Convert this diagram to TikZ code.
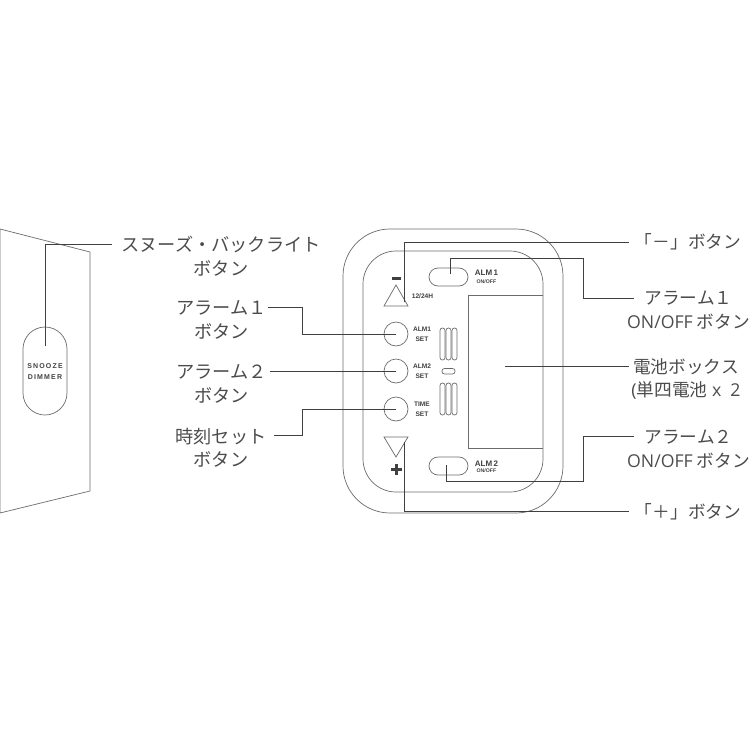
\documentclass[tikz,border=0pt]{standalone}
\usetikzlibrary{shapes.misc}
\usepackage{fontspec}
\setmainfont{Liberation Sans}
\newfontfamily\jp{Noto Sans CJK JP}
\newfontfamily\lab{Liberation Sans}
\newfontfamily\lat{Open Sans}
\definecolor{outl}{gray}{0.42}
\definecolor{conn}{gray}{0.25}
\definecolor{txt}{gray}{0.3}
\tikzset{
  outline/.style={draw=outl,line width=0.7pt,fill=none},
  leader/.style={draw=conn,line width=0.95pt,line join=miter},
  callout/.style={inner sep=0pt,align=center,text=txt,font=\jp\fontsize{18.2}{23.4}\selectfont},
  calloutR/.style={callout,font=\jp\fontsize{17.7}{23.4}\selectfont},
  tiny/.style={inner sep=0pt,align=center,text=conn,font=\lab\bfseries\fontsize{6.6}{9.6}\selectfont},
  tinier/.style={inner sep=0pt,align=center,text=conn,font=\lab\bfseries\fontsize{5.2}{5.5}\selectfont},
  bigtiny/.style={inner sep=0pt,text=conn,font=\lab\bfseries\fontsize{8}{8}\selectfont},
  roundbtn/.style={circle,draw=outl,line width=0.7pt,minimum size=24pt,inner sep=0pt},
  pill/.style={rounded rectangle,draw=outl,line width=0.7pt,inner sep=0pt},
}
\begin{document}
\begin{tikzpicture}[x=1pt,y=-1pt]
\useasboundingbox (0,0) rectangle (750,750);
\clip (0,0) rectangle (750,750);
% left panel
\draw[outline] (0,229) -- (90,252) -- (90,491) -- (0,513) -- cycle;
\node[pill,rotate=90,minimum width=88pt,minimum height=44pt] (sbtn) at (45,371) {};
\node[tiny,font=\lab\bfseries\fontsize{7}{11}\selectfont] (snz) at (45,371.5) {S\,N\,O\,O\,Z\,E\\D\,I\,M\,M\,E\,R};
% body
\draw[outline,rounded corners=47pt] (343,229) rectangle (563,513);
\draw[outline,rounded corners=33pt] (363,251) rectangle (543,492);
\draw[outline] (543,295) -- (468,295) -- (468,448) -- (543,448);
% oval buttons
\node[pill,minimum width=39pt,minimum height=18pt] (o1) at (448.5,277) {};
\node[pill,minimum width=39pt,minimum height=18pt] (o2) at (448.5,466) {};
\node[bigtiny] (a1t) at (486.5,273) {ALM\,1};
\node[tinier] (a1o) at (486.5,282) {ON/OFF};
\node[bigtiny] (a2t) at (486.5,464) {ALM\,2};
\node[tinier] (a2o) at (486.5,471) {ON/OFF};
% triangles and signs
\draw[outline] (396,285) -- (408,306) -- (384,306) -- cycle;
\draw[outline] (396,457) -- (408,437) -- (384,437) -- cycle;
\fill[conn] (392,277.2) rectangle (400.5,279.8);
\fill[conn] (391,467.5) rectangle (402,471);
\fill[conn] (394.7,463.8) rectangle (398.3,474.8);
\node[tiny] (h24) at (422.5,296) {12/24H};
% round buttons
\node[roundbtn] (b1) at (396,334) {};
\node[roundbtn] (b2) at (396,371) {};
\node[roundbtn] (b3) at (396,409) {};
\node[tiny] (b1t) at (422,334) {ALM1\\SET};
\node[tiny] (b2t) at (422,371) {ALM2\\SET};
\node[tiny] (b3t) at (422,409) {TIME\\SET};
% vents
\foreach \vx in {440,446,452}{
  \draw[outline,rounded corners=2.4pt] (\vx,328) rectangle ++(5,32);
  \draw[outline,rounded corners=2.4pt] (\vx,383) rectangle ++(5,32);
}
\draw[outline,rounded corners=2.5pt] (442,368.5) rectangle (455,374);
% labels
\node[callout] (l1) at (221,256) {スヌーズ・バックライト\\ボタン};
\node[callout] (l2) at (221.5,320) {アラーム１\\ボタン};
\node[callout] (l3) at (221.5,384) {アラーム２\\ボタン};
\node[callout] (l4) at (221,448) {時刻セット\\ボタン};
\node[calloutR] (r1) at (688,242) {「－」ボタン};
\node[calloutR] (r2) at (688.5,310) {アラーム１\\{\lat ON/OFF} ボタン};
\node[calloutR] (r3) at (686,379) {電池ボックス\\{\lat (}単四電池{\lat\ x\ \ 2}};
\node[calloutR] (r4) at (688.5,449) {アラーム２\\{\lat ON/OFF} ボタン};
\node[calloutR] (r5) at (688,512) {「＋」ボタン};
% connector ends
\coordinate (snzE) at (45,346);
\coordinate (snzL) at (112,244);
\coordinate (minE) at (404,302);
\coordinate (minL) at (629,242);
\coordinate (a1E) at (450,274);
\coordinate (a1L) at (634,298);
\coordinate (batE) at (505,366);
\coordinate (batL) at (629,366);
\coordinate (a2E) at (446,465);
\coordinate (a2L) at (634,436);
\coordinate (plsE) at (404,442);
\coordinate (plsL) at (629,511.5);
\coordinate (s1L) at (268,307);
\coordinate (s2L) at (270,371);
\coordinate (s3L) at (274,435);
% connectors
\draw[leader] (snzE) -- (snzE |- snzL) -- (snzL);
\draw[leader] (minE) -- (minE |- minL) -- (minL);
\draw[leader] (a1E) -- (450,258) -- (583,258) -- (583,298) -- (a1L);
\draw[leader] (batE) -- (batL);
\draw[leader] (a2E) -- (446,481) -- (583,481) -- (583,436) -- (a2L);
\draw[leader] (plsE) -- (plsE |- plsL) -- (plsL);
\draw[leader] (b1.center) -- (302,334) -- (302,307) -- (s1L);
\draw[leader] (b2.center) -- (s2L);
\draw[leader] (b3.center) -- (302,409) -- (302,435) -- (s3L);
\end{tikzpicture}
\end{document}
